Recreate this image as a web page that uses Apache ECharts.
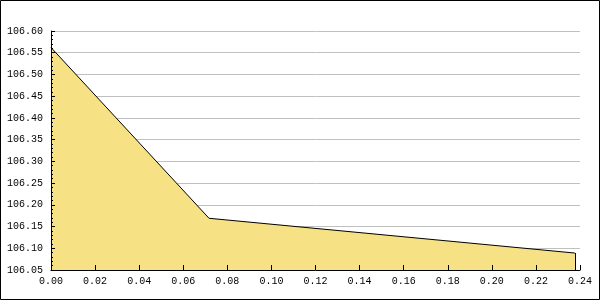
<!DOCTYPE html>
<html><head><meta charset="utf-8">
<script src="https://cdn.jsdelivr.net/npm/echarts@6/dist/echarts.min.js"></script>
<style>html,body{margin:0;padding:0;background:#fff}#c{width:600px;height:300px}</style>
</head><body><div id="c"></div>
<script>
const xValues = [0, 0.0717, 0.2377];
const yValues = [106.562, 106.169, 106.089];
const yTicks = { min: 106.05, max: 106.60, interval: 0.05 };
const xTicks = { min: 0, max: 0.24, interval: 0.02 };

const chart = echarts.init(document.getElementById('c'));
const font = { fontFamily: 'Liberation Mono', fontSize: 10, color: '#000' };
const lastX = xValues[xValues.length - 1], lastY = yValues[yValues.length - 1];
const yBase = { type: 'value', min: yTicks.min, max: yTicks.max, interval: yTicks.interval, position: 'left' };
chart.setOption({
  animation: false,
  backgroundColor: '#fff',
  grid: { left: 51, right: 20, top: 31, bottom: 30, containLabel: false },
  graphic: [{ type: 'rect', shape: { x: 0.5, y: 0.5, width: 599, height: 299 }, style: { fill: 'none', stroke: '#000', lineWidth: 1 }, z: 100 }],
  xAxis: {
    type: 'value', min: xTicks.min, max: xTicks.max, interval: xTicks.interval, z: 5,
    axisLine: { show: true, lineStyle: { color: '#000', width: 1 } },
    axisTick: { show: true, inside: true, length: 5, lineStyle: { color: '#000' } },
    axisLabel: Object.assign({ margin: 6, formatter: v => v.toFixed(2), showMaxLabel: true, showMinLabel: true }, font),
    splitLine: { show: false }
  },
  yAxis: [
    Object.assign({}, yBase, {
      z: 0,
      axisLine: { show: false }, axisTick: { show: false }, axisLabel: { show: false },
      splitLine: { show: true, lineStyle: { color: '#c0c0c0', width: 1 } }
    }),
    Object.assign({}, yBase, {
      z: 5,
      axisLine: { show: true, onZero: false, lineStyle: { color: '#000', width: 1 } },
      axisTick: { show: true, inside: true, length: 4, lineStyle: { color: '#000' } },
      minorTick: { show: true, splitNumber: 5, length: 2, lineStyle: { color: '#000' } },
      axisLabel: Object.assign({ margin: 8, formatter: v => v.toFixed(2) }, font),
      splitLine: { show: false }
    })
  ],
  series: [{
    type: 'line', z: 2, yAxisIndex: 0,
    data: xValues.map((x, i) => [x, yValues[i]]),
    symbol: 'none',
    lineStyle: { color: '#000', width: 1 },
    areaStyle: { color: '#f6e185', opacity: 1, origin: 'start' },
    markLine: {
      silent: true, symbol: 'none', label: { show: false },
      lineStyle: { color: '#000', width: 1, type: 'solid' },
      data: [[{ coord: [lastX, yTicks.min] }, { coord: [lastX, lastY] }]]
    }
  }]
});
</script></body></html>
